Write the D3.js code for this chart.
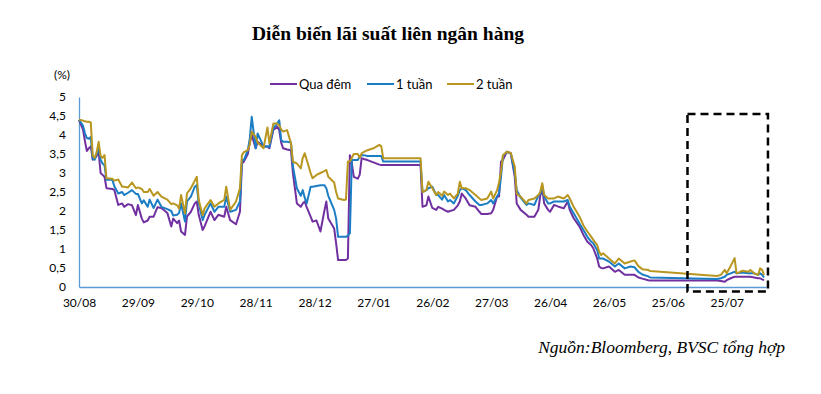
<!DOCTYPE html>
<html>
<head>
<meta charset="utf-8">
<script src="https://cdn.jsdelivr.net/npm/d3@7"></script>
<style>
  body { margin: 0; background: #fff; }
  svg { display: block; }
</style>
</head>
<body>
<svg id="chart" width="821" height="394"></svg>
<script>
// ---- data ----
var dates = [
  "2019-08-30","2019-09-01","2019-09-02","2019-09-03","2019-09-04","2019-09-05","2019-09-06","2019-09-07","2019-09-08","2019-09-09",
  "2019-09-10","2019-09-11","2019-09-12","2019-09-13","2019-09-16","2019-09-17","2019-09-19","2019-09-21","2019-09-22","2019-09-24",
  "2019-09-26","2019-09-28","2019-09-29","2019-10-01","2019-10-02","2019-10-04","2019-10-05","2019-10-07","2019-10-09","2019-10-11",
  "2019-10-14","2019-10-16","2019-10-17","2019-10-19","2019-10-20","2019-10-21","2019-10-23","2019-10-24","2019-10-26","2019-10-28",
  "2019-10-29","2019-10-30","2019-11-01","2019-11-02","2019-11-05","2019-11-07","2019-11-09","2019-11-12","2019-11-13","2019-11-15",
  "2019-11-18","2019-11-20","2019-11-21","2019-11-22","2019-11-24","2019-11-25","2019-11-26","2019-11-28","2019-11-29","2019-12-02",
  "2019-12-04","2019-12-05","2019-12-07","2019-12-09","2019-12-10","2019-12-11","2019-12-12","2019-12-14","2019-12-16","2019-12-17",
  "2019-12-19","2019-12-21","2019-12-22","2019-12-23","2019-12-24","2019-12-26","2019-12-27","2019-12-29","2019-12-31","2020-01-02",
  "2020-01-03","2020-01-04","2020-01-07","2020-01-08","2020-01-09","2020-01-12","2020-01-13","2020-01-14","2020-01-15","2020-01-16",
  "2020-01-17","2020-01-19","2020-01-20","2020-01-21","2020-01-22","2020-01-24","2020-01-27","2020-01-30","2020-01-31","2020-02-01",
  "2020-02-20","2020-02-21","2020-02-23","2020-02-24","2020-02-26","2020-02-28","2020-02-29","2020-03-02","2020-03-03","2020-03-05",
  "2020-03-06","2020-03-08","2020-03-10","2020-03-11","2020-03-12","2020-03-14","2020-03-16","2020-03-19","2020-03-21","2020-03-22",
  "2020-03-25","2020-03-27","2020-03-28","2020-03-30","2020-03-31","2020-04-01","2020-04-02","2020-04-04","2020-04-06","2020-04-08",
  "2020-04-09","2020-04-11","2020-04-14","2020-04-15","2020-04-18","2020-04-20","2020-04-21","2020-04-22","2020-04-23","2020-04-25",
  "2020-04-26","2020-04-28","2020-04-30","2020-05-03","2020-05-05","2020-05-06","2020-05-08","2020-05-11","2020-05-13","2020-05-15",
  "2020-05-17","2020-05-18","2020-05-20","2020-05-21","2020-05-22","2020-05-23","2020-05-26","2020-05-29","2020-05-31","2020-06-03",
  "2020-06-06","2020-06-08","2020-06-10","2020-06-12","2020-06-15","2020-06-16","2020-07-20","2020-07-22","2020-07-24","2020-07-25",
  "2020-07-27","2020-07-29","2020-07-30","2020-07-31","2020-08-02","2020-08-05","2020-08-06","2020-08-08","2020-08-10","2020-08-11",
  "2020-08-12","2020-08-13"
];

var overnight = [
  4.40,4.15,3.85,3.58,3.65,3.70,3.35,3.38,3.45,3.56,
  3.00,2.95,2.90,2.60,2.58,2.55,2.16,2.20,2.11,2.18,
  2.15,1.89,2.16,1.80,1.70,1.75,1.85,1.85,2.10,2.08,
  1.95,1.59,1.80,1.68,1.75,1.46,1.37,1.85,1.98,2.20,
  2.25,1.90,1.50,1.60,1.98,1.76,1.90,1.85,2.11,1.76,
  1.65,1.98,3.25,3.30,3.50,3.80,4.00,3.65,3.82,3.70,
  3.70,3.65,4.13,4.22,4.13,3.80,3.65,3.62,3.60,2.99,
  2.20,2.11,2.20,2.25,2.10,1.85,1.72,1.75,1.46,2.00,
  2.25,1.80,1.54,1.15,0.71,0.71,0.71,0.75,3.47,3.25,
  2.90,2.85,2.95,3.39,3.37,3.34,3.28,3.22,3.21,3.21,
  3.21,2.11,2.15,2.38,2.08,2.03,2.11,2.06,2.03,1.98,
  2.00,2.03,2.15,2.25,2.46,2.33,2.15,2.11,1.98,1.92,
  1.92,1.94,2.03,2.38,2.38,3.30,3.35,3.56,3.52,2.90,
  2.20,2.03,1.90,1.85,1.85,2.03,2.40,2.60,2.20,2.03,
  1.98,2.16,2.12,2.07,2.25,2.03,1.81,1.59,1.37,1.19,
  1.10,1.02,0.75,0.54,0.50,0.49,0.54,0.40,0.45,0.32,
  0.32,0.32,0.25,0.22,0.18,0.17,0.17,0.16,0.14,0.18,
  0.23,0.27,0.27,0.27,0.27,0.27,0.27,0.25,0.23,0.23,
  0.20,0.18
];

var oneWeek = [
  4.40,4.25,4.05,3.92,3.90,3.95,3.38,3.35,3.50,3.67,
  3.35,3.25,3.20,2.82,2.82,2.65,2.46,2.50,2.42,2.48,
  2.55,2.45,2.45,2.20,2.28,2.11,2.30,2.08,2.30,2.11,
  2.05,2.00,1.88,1.90,1.95,2.20,1.72,2.25,2.38,2.64,
  2.68,2.20,1.76,1.90,2.20,1.98,2.11,2.11,2.38,1.98,
  2.03,2.25,3.34,3.34,3.60,3.90,4.48,3.65,4.04,3.70,
  3.70,3.69,4.18,4.30,4.39,3.87,3.82,3.82,3.80,3.17,
  2.60,2.40,2.55,2.35,2.20,2.64,2.64,2.66,2.68,2.68,
  2.60,2.40,2.03,1.80,1.32,1.32,1.32,1.35,1.41,3.34,
  3.34,3.34,3.43,3.47,3.47,3.45,3.45,3.45,3.45,3.30,
  3.30,2.50,2.55,2.60,2.64,2.42,2.42,2.30,2.42,2.25,
  2.29,2.20,2.40,2.55,2.60,2.55,2.42,2.25,2.16,2.16,
  2.20,2.29,2.20,2.38,2.47,2.90,3.45,3.56,3.50,3.00,
  2.55,2.35,2.16,2.20,2.16,2.40,2.45,2.68,2.38,2.20,
  2.20,2.25,2.25,2.25,2.29,2.12,1.94,1.67,1.50,1.32,
  1.19,1.15,0.97,0.75,0.75,0.75,0.67,0.54,0.62,0.49,
  0.54,0.52,0.40,0.33,0.28,0.25,0.21,0.23,0.27,0.32,
  0.36,0.40,0.36,0.37,0.38,0.36,0.36,0.36,0.32,0.36,
  0.32,0.25
];

var twoWeek = [
  4.40,4.38,4.36,4.35,4.35,4.33,3.45,3.40,3.55,3.82,
  3.45,3.40,3.47,2.86,2.85,2.80,2.83,2.64,2.64,2.62,
  2.75,2.60,2.62,2.58,2.50,2.50,2.58,2.40,2.50,2.38,
  2.30,2.18,2.20,2.15,2.07,2.42,1.94,2.46,2.60,2.80,
  2.90,2.29,1.89,2.07,2.29,2.11,2.20,2.29,2.64,2.03,
  2.25,2.60,3.47,3.55,3.60,3.75,4.09,3.95,3.80,3.65,
  4.20,3.78,4.30,4.30,4.25,4.15,4.09,4.13,3.78,3.30,
  3.25,3.12,3.40,3.52,3.35,3.00,2.86,2.95,3.00,3.05,
  3.08,2.90,2.75,2.50,2.33,2.29,2.30,3.30,3.30,3.40,
  3.50,3.50,3.40,3.52,3.55,3.60,3.65,3.74,3.70,3.39,
  3.39,2.50,2.55,2.77,2.60,2.42,2.50,2.40,2.51,2.42,
  2.46,2.33,2.46,2.77,2.60,2.60,2.55,2.42,2.33,2.29,
  2.33,2.51,2.33,2.55,2.75,3.04,3.47,3.56,3.52,3.17,
  2.45,2.38,2.20,2.29,2.33,2.42,2.50,2.73,2.42,2.33,
  2.33,2.33,2.38,2.33,2.42,2.33,2.11,1.85,1.62,1.46,
  1.32,1.24,1.10,0.93,0.84,0.89,0.75,0.62,0.75,0.62,
  0.67,0.70,0.55,0.47,0.45,0.42,0.29,0.32,0.45,0.36,
  0.55,0.76,0.36,0.38,0.43,0.40,0.45,0.36,0.32,0.49,
  0.45,0.32
];

var seriesNames = ["Qua đêm", "1 tuần", "2 tuần"];
var seriesColors = ["#7030a0", "#1b7dc4", "#b8961f"];

var xTickDates = ["2019-08-30","2019-09-29","2019-10-29","2019-11-28","2019-12-28","2020-01-27",
                  "2020-02-26","2020-03-27","2020-04-26","2020-05-26","2020-06-25","2020-07-25"];
var yTicks = [0, 0.5, 1, 1.5, 2, 2.5, 3, 3.5, 4, 4.5, 5];
var xDomain = ["2019-08-30", "2020-08-14"];

// dashed box around the latest weeks
var boxDates = ["2020-07-05", "2020-08-15"];
var boxValues = [-0.12, 4.55];

// ---- drawing ----
var parse = d3.timeParse("%Y-%m-%d");
var svg = d3.select("#chart");

var margin = {top: 97, right: 55, bottom: 107, left: 79},
    width = 821 - margin.left - margin.right,
    height = 394 - margin.top - margin.bottom;

var x = d3.scaleTime().domain(xDomain.map(parse)).range([0, width]);
var y = d3.scaleLinear().domain([0, 5]).range([height, 0]);

var g = svg.append("g").attr("transform", "translate(" + margin.left + "," + margin.top + ")");

var commaFmt = d3.formatLocale({decimal: ",", thousands: ".", grouping: [3], currency: ["", ""]}).format("~g");

svg.append("text")
    .attr("x", 388).attr("y", 40)
    .attr("text-anchor", "middle")
    .style("font-family", "'Liberation Serif', 'Times New Roman', serif")
    .style("font-weight", "bold")
    .style("font-size", "19.5px")
    .text("Diễn biến lãi suất liên ngân hàng");

// y axis
var yAxis = g.append("g")
    .call(d3.axisLeft(y).tickValues(yTicks).tickSize(0).tickPadding(13).tickFormat(commaFmt));
yAxis.select(".domain").attr("stroke", "#5b9bd5").attr("stroke-width", 1.3);

// x axis
var xAxis = g.append("g")
    .attr("transform", "translate(0," + height + ")")
    .call(d3.axisBottom(x).tickValues(xTickDates.map(parse)).tickSize(0).tickPadding(11)
        .tickFormat(d3.timeFormat("%d/%m")));
xAxis.select(".domain").attr("stroke", "#5b9bd5").attr("stroke-width", 1.3);

g.selectAll(".tick text")
    .style("font-family", "Lato, 'Open Sans', sans-serif")
    .style("font-size", "12px")
    .attr("fill", "#000");

g.append("text")
    .attr("x", -9).attr("y", -18)
    .attr("text-anchor", "end")
    .style("font-family", "Lato, sans-serif")
    .style("font-size", "12px")
    .text("(%)");

// lines
var allSeries = [overnight, oneWeek, twoWeek];
var line = d3.line()
    .x(function(d) { return x(d.date); })
    .y(function(d) { return y(d.value); });

allSeries.forEach(function(vals, i) {
    var pts = dates.map(function(dt, j) { return {date: parse(dt), value: vals[j]}; });
    g.append("path")
        .datum(pts)
        .attr("fill", "none")
        .attr("stroke", seriesColors[i])
        .attr("stroke-width", 2)
        .attr("stroke-linejoin", "round")
        .attr("d", line);
});

// dashed highlight box
g.append("rect")
    .attr("x", x(parse(boxDates[0])))
    .attr("y", y(boxValues[1]))
    .attr("width", x(parse(boxDates[1])) - x(parse(boxDates[0])))
    .attr("height", y(boxValues[0]) - y(boxValues[1]))
    .attr("fill", "none")
    .attr("stroke", "#000")
    .attr("stroke-width", 2.5)
    .attr("stroke-dasharray", "8,5");

// legend
var legendX = [270, 367, 447];
var legend = svg.append("g").attr("transform", "translate(0,84)");
seriesNames.forEach(function(name, i) {
    legend.append("line")
        .attr("x1", legendX[i]).attr("x2", legendX[i] + 27)
        .attr("stroke", seriesColors[i]).attr("stroke-width", 2);
    legend.append("text")
        .attr("x", legendX[i] + 29).attr("y", 4.5)
        .style("font-family", "Lato, sans-serif")
        .style("font-size", "13px")
        .text(name);
});

// source note
svg.append("text")
    .attr("x", 785).attr("y", 353)
    .attr("text-anchor", "end")
    .style("font-family", "'Liberation Serif', 'Times New Roman', serif")
    .style("font-style", "italic")
    .style("font-size", "17.5px")
    .text("Nguồn:Bloomberg, BVSC tổng hợp");
</script>
</body>
</html>
